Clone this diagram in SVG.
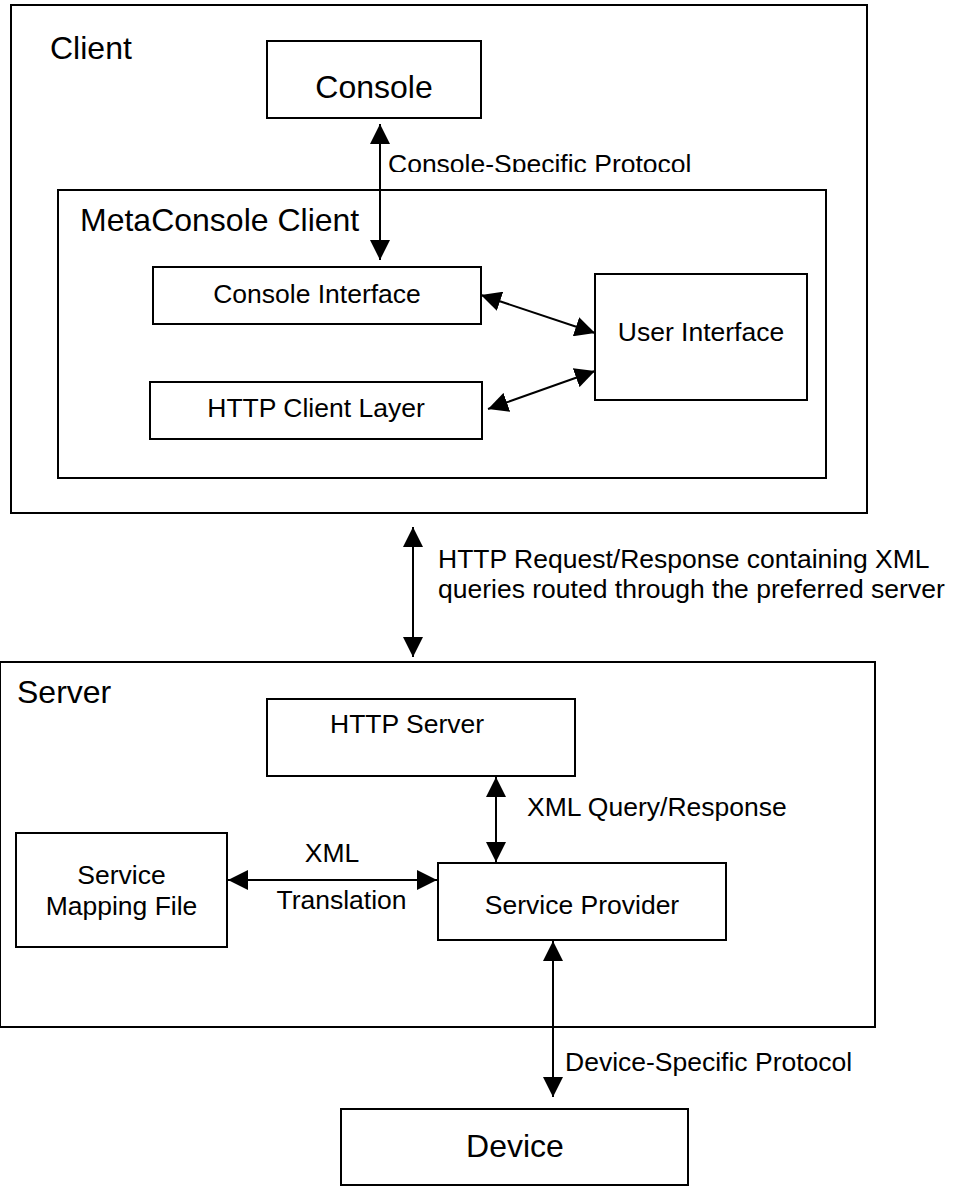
<svg xmlns="http://www.w3.org/2000/svg" width="953" height="1186" viewBox="0 0 953 1186">
<style>
.box{fill:none;stroke:#000;stroke-width:2}
.nb{fill:#fff;stroke:#000;stroke-width:2}
.big{font-family:"Liberation Sans",Arial,sans-serif;font-size:32px;fill:#000}
.sm{font-family:"Liberation Sans",Arial,sans-serif;font-size:26.5px;fill:#000}
.mid{text-anchor:middle}
.conn line{stroke:#000;stroke-width:2;marker-start:url(#ah);marker-end:url(#ah)}
</style>
<defs>
<marker id="ah" viewBox="0 0 20 20" refX="20" refY="10" markerWidth="20" markerHeight="20" markerUnits="userSpaceOnUse" orient="auto-start-reverse">
<path d="M0,0 L20,10 L0,20 z" fill="#000"/>
</marker>
<clipPath id="clipCSP"><rect x="380" y="130" width="400" height="42"/></clipPath>
</defs>
<rect width="953" height="1186" fill="#fff"/>

<g id="client">
<rect class="box" x="11" y="5" width="856" height="508"/>
<text class="big" x="50" y="59">Client</text>
</g>
<g id="console">
<rect class="nb" x="267" y="41" width="214" height="77"/>
<text class="big mid" x="374" y="98">Console</text>
</g>
<g id="metaconsole-client">
<rect class="box" x="58" y="190" width="768" height="288"/>
<text class="big" x="80" y="231">MetaConsole Client</text>
</g>
<g id="console-interface">
<rect class="nb" x="153" y="267" width="328" height="57"/>
<text class="sm mid" x="317" y="303">Console Interface</text>
</g>
<g id="http-client-layer">
<rect class="nb" x="150" y="382" width="332" height="57"/>
<text class="sm mid" x="316" y="417">HTTP Client Layer</text>
</g>
<g id="user-interface">
<rect class="nb" x="595" y="274" width="212" height="126"/>
<text class="sm mid" x="701" y="341">User Interface</text>
</g>

<g id="server">
<rect class="box" x="0" y="662" width="875" height="365"/>
<text class="big" x="17" y="703">Server</text>
</g>
<g id="http-server">
<rect class="nb" x="267" y="699" width="308" height="77"/>
<text class="sm" x="330" y="733">HTTP Server</text>
</g>
<g id="service-mapping-file">
<rect class="nb" x="16" y="833" width="211" height="114"/>
<text class="sm mid" x="121.5" y="884">Service</text>
<text class="sm mid" x="121.5" y="915">Mapping File</text>
</g>
<g id="service-provider">
<rect class="nb" x="438" y="863" width="288" height="77"/>
<text class="sm mid" x="582" y="914">Service Provider</text>
</g>
<g id="device">
<rect class="nb" x="341" y="1109" width="347" height="76"/>
<text class="big mid" x="515" y="1157">Device</text>
</g>

<g id="connectors" class="conn">
<line x1="380" y1="124" x2="380" y2="260"/>
<line x1="481" y1="295" x2="595" y2="333"/>
<line x1="488" y1="409" x2="595" y2="371"/>
<line x1="413" y1="527" x2="413" y2="657"/>
<line x1="496" y1="777" x2="496" y2="862"/>
<line x1="228" y1="880" x2="437" y2="880"/>
<line x1="553" y1="941" x2="553" y2="1097"/>
</g>

<g id="labels">
<text class="sm" x="388" y="173" clip-path="url(#clipCSP)">Console-Specific Protocol</text>
<text class="sm" x="438" y="568">HTTP Request/Response containing XML</text>
<text class="sm" x="438" y="598">queries routed through the preferred server</text>
<text class="sm" x="527" y="816">XML Query/Response</text>
<text class="sm mid" x="332" y="862">XML</text>
<text class="sm mid" x="341.5" y="909">Translation</text>
<text class="sm" x="565" y="1071">Device-Specific Protocol</text>
</g>
</svg>
